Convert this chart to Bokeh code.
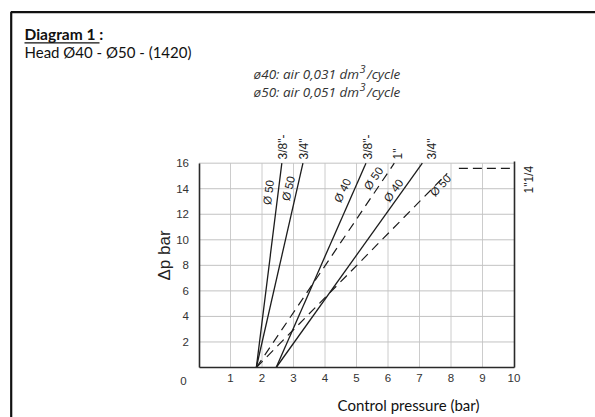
from bokeh.plotting import figure
from bokeh.models import (Label, FixedTicker, LinearAxis, ColumnDataSource, Range1d)
from bokeh.embed import file_html
from bokeh.resources import INLINE

# ---------------- data ----------------
x_ticks = [1, 2, 3, 4, 5, 6, 7, 8, 9, 10]
y_ticks = [2, 4, 6, 8, 10, 12, 14, 16]
grid_x = [1, 2, 3, 4, 5, 6, 7, 8, 9]
grid_y = [2, 4, 6, 8, 10, 12, 14, 16]
x_max, y_max = 10, 16

# characteristic lines: start (x0, y0) -> end (x1, y1)
line_names = ['Ø50 3/8"', 'Ø50 3/4"', 'Ø40 3/8"', 'Ø40 3/4"', 'Ø50 1"', 'Ø50 1"1/4']
line_x0 = [1.82, 1.82, 2.45, 2.45, 1.82, 1.82]
line_y0 = [0, 0, 0, 0, 0, 0]
line_x1 = [2.63, 3.30, 5.30, 7.09, 6.20, 7.88]
line_y1 = [16, 16, 16, 16, 16, 15.2]
line_dashed = [False, False, False, False, True, True]

# 1"1/4 horizontal dashed level
h_x0, h_x1, h_y = 8.25, 10.0, 15.6

# ---------------- layout helpers (canvas px -> data) ----------------
W, H = 595, 417
X0PX, XU = 198.5, 31.5      # x = 0 at this px, px per unit
Y0PX, YU = 367.0, 12.77     # y = 0 at this px, px per unit


def dx(px):
    return (px - X0PX) / XU


def dy(py):
    return (Y0PX - py) / YU


p = figure(width=W, height=H,
           x_range=Range1d(dx(0), dx(W)), y_range=Range1d(dy(H), dy(0)),
           output_backend="svg", toolbar_location=None, min_border=0)
p.outline_line_color = None
p.background_fill_color = "white"
p.border_fill_color = "white"
p.xgrid.visible = False
p.ygrid.visible = False

# axes drawn inside the (whole-canvas) frame
p.xaxis.ticker = FixedTicker(ticks=x_ticks)
p.yaxis.ticker = FixedTicker(ticks=y_ticks)
p.xaxis.fixed_location = 0
p.yaxis.fixed_location = 0
p.xaxis.bounds = (0, x_max)
p.yaxis.bounds = (0, y_max)
for ax in (p.xaxis[0], p.yaxis[0]):
    ax.axis_line_color = "#2a2a2a"
    ax.axis_line_width = 1.6
    ax.major_tick_line_color = None
    ax.minor_tick_line_color = None
    ax.major_tick_out = 0
    ax.major_tick_in = 0
    ax.major_label_text_font = "Liberation Sans"
    ax.major_label_text_font_size = "11.5px"
    ax.major_label_text_color = "#333333"
p.xaxis.major_label_standoff = 6
p.yaxis.major_label_standoff = 10

right = LinearAxis(ticker=FixedTicker(ticks=[]), fixed_location=x_max,
                   bounds=(0, 16.1), axis_line_color="#2a2a2a",
                   axis_line_width=1.6, major_tick_line_color=None,
                   minor_tick_line_color=None, major_label_text_font_size="0px")
p.add_layout(right, "right")

# grid
p.segment(x0=grid_x, y0=[0] * len(grid_x), x1=grid_x, y1=[y_max] * len(grid_x),
          line_color="#cccccc", line_width=1)
p.segment(x0=[0] * len(grid_y), y0=grid_y, x1=[x_max] * len(grid_y), y1=grid_y,
          line_color="#c2c2c2", line_width=1)

# characteristic lines
solid = ColumnDataSource(dict(
    xs=[[a, b] for a, b, d in zip(line_x0, line_x1, line_dashed) if not d],
    ys=[[a, b] for a, b, d in zip(line_y0, line_y1, line_dashed) if not d]))
dashed = ColumnDataSource(dict(
    xs=[[a, b] for a, b, d in zip(line_x0, line_x1, line_dashed) if d],
    ys=[[a, b] for a, b, d in zip(line_y0, line_y1, line_dashed) if d]))
p.multi_line("xs", "ys", source=solid, line_color="#1c1c1c", line_width=1.3)
p.multi_line("xs", "ys", source=dashed, line_color="#1c1c1c", line_width=1.2,
             line_dash="9 6")
p.line([h_x0, h_x1], [h_y, h_y], line_color="#1c1c1c", line_width=1.2,
       line_dash="9 5")


def lab(x, y, text, font="Liberation Sans", size="11px", color="#222222",
        align="center", baseline="middle", angle=0, style="normal"):
    p.add_layout(Label(x=x, y=y, text=text, angle=angle, angle_units="deg",
                       text_align=align, text_baseline=baseline,
                       text_font=font, text_font_size=size,
                       text_color=color, text_font_style=style))


# on-line labels
curve_labels = ["Ø 50", "Ø 50", "Ø 40", "Ø 50", "Ø 40", "Ø 50"]
curve_px = [268, 288, 342, 373, 393, 440]
curve_py = [192, 188, 190, 178, 190, 185]
curve_ang = [83, 77, 64, 55, 54, 47]
for t, x, y, a in zip(curve_labels, curve_px, curve_py, curve_ang):
    lab(dx(x), dy(y), t, size="11.5px", angle=a)

# port size labels above the chart
port_labels = ['3/8"-', '3/4"', '3/8"-', '1"', '3/4"']
port_px = [282, 303, 367, 397, 431]
for t, px in zip(port_labels, port_px):
    lab(dx(px), dy(159), t, size="12px", angle=90, align="left")
lab(dx(528), dy(193), '1"1/4', size="12px", angle=90, align="left")

# zero label, axis titles
lab(dx(183), dy(380), "0", size="11.5px", color="#333333")
lab(dx(164), dy(255), "Δp bar", size="17px", angle=90)
lab(dx(408), dy(404), "Control pressure (bar)", font="Lato", size="15px",
    color="#111111")

# headings
lab(dx(24), dy(33.5), "Diagram 1 :", font="Lato", size="15.5px", color="#111111",
    align="left", style="bold")
lab(dx(24), dy(51.5), "Head Ø40 - Ø50 - (1420)", font="Lato", size="15px",
    color="#111111", align="left")

# air consumption notes (with raised exponent)
note_lines = ["ø40: air 0,031 dm", "ø50: air 0,051 dm"]
note_py = [73, 91]
for t, py in zip(note_lines, note_py):
    lab(dx(358.5), dy(py), t, font="Open Sans", size="13.5px", color="#333333",
        align="right", style="italic")
    lab(dx(359), dy(py - 4.5), "3", font="Open Sans", size="11px", color="#333333",
        align="left", style="italic")
    lab(dx(366.5), dy(py), "/cycle", font="Open Sans", size="13.5px",
        color="#333333", align="left", style="italic")

# underline of "Diagram 1" and the page frame (left and top edges)
p.line([dx(24), dx(99)], [dy(42.3), dy(42.3)], line_color="#111111", line_width=1.2)
p.line([dx(W + 5), dx(10.7), dx(10.7)], [dy(11.7), dy(11.7), dy(H + 5)],
       line_color="#111111", line_width=2.2)

open("out.html", "w").write(file_html(p, INLINE))
